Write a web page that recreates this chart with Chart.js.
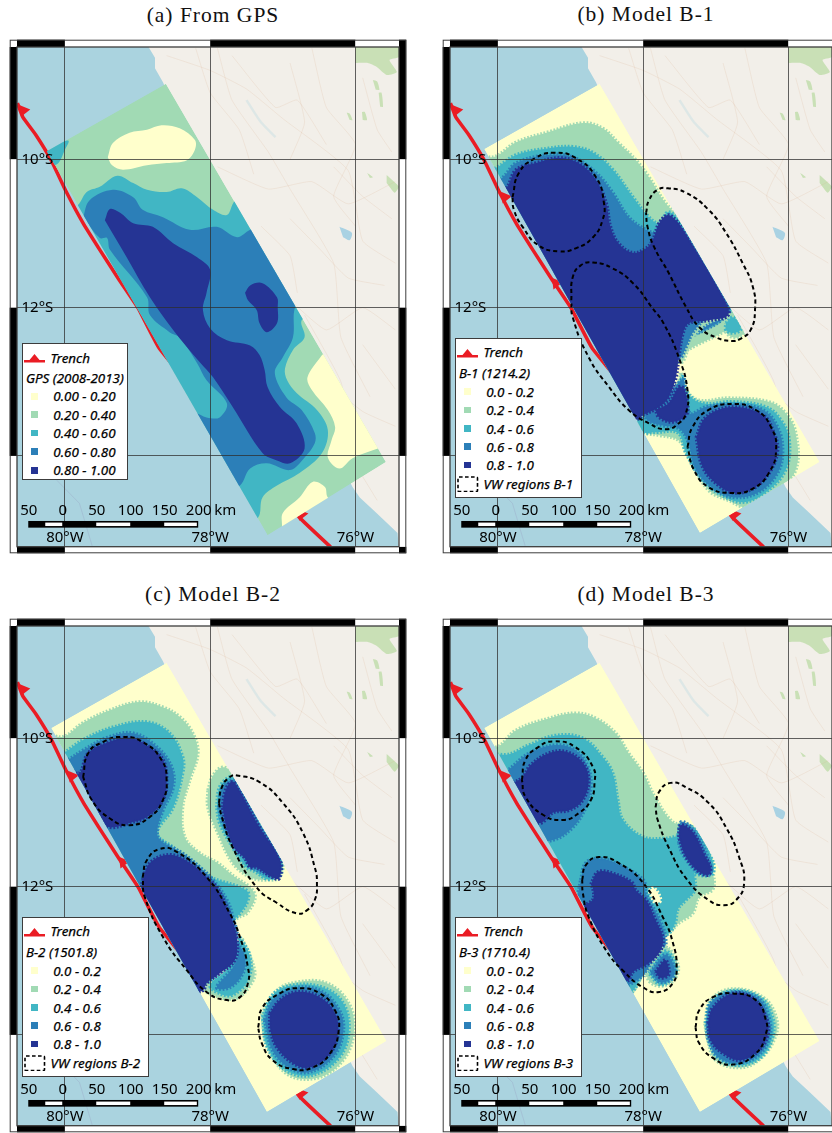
<!DOCTYPE html>
<html><head><meta charset="utf-8">
<script src="https://cdn.jsdelivr.net/npm/chart.js@4"></script>
<style>
html,body{margin:0;padding:0;background:#fff}
#page{position:relative;width:832px;height:1133px;overflow:hidden;background:#fff}
canvas{position:absolute}
.t{position:absolute;font-family:"Liberation Serif",serif;font-size:21.5px;transform:translateX(-50%);white-space:nowrap;line-height:22px;color:#111;letter-spacing:1px}
.lg{position:absolute;background:#fff;border:1.4px solid #3c3c3c;box-sizing:border-box;font-family:"Noto Sans",sans-serif;font-style:italic;font-size:13.4px;color:#000;-webkit-text-stroke:.25px #000}
.lg div,.lg svg{position:absolute;white-space:nowrap}
.lg div{line-height:16px}
</style></head><body><div id="page"></div>
<script>
// palette
const levelColors=['#ffffcc','#a1dab4','#41b6c4','#2c7fb8','#253494'];
const xTicks=[-80,-78,-76], yTicks=[-10,-12,-14];
const lonRange=[-80.66,-75.40], latRange=[-15.224,-8.484];
const scaleKm=[-50,0,50,100,150,200];
const panelTitles=['(a) From GPS','(b) Model B-1','(c) Model B-2','(d) Model B-3'];
const gpsLabels=['0.00 - 0.20','0.20 - 0.40','0.40 - 0.60','0.60 - 0.80','0.80 - 1.00'];
const modelLabels=['0.0 - 0.2','0.2 - 0.4','0.4 - 0.6','0.6 - 0.8','0.8 - 1.0'];
const legendNames=['GPS (2008-2013)','B-1 (1214.2)','B-2 (1501.8)','B-3 (1710.4)'];
// base map (lon,lat pairs)
const land=[-78.90,-8.40,-78.76,-8.63,-78.76,-8.77,-78.65,-8.96,-77.32,-11.90,-76.04,-14.42,-75.94,-14.56,-75.71,-14.77,-75.42,-15.04,-75.39,-15.4,-75.3,-15.4,-75.3,-8.4];
const forest=[[-76.0,-8.48,-75.40,-8.48,-75.40,-8.62,-75.53,-8.66,-75.43,-8.82,-75.57,-8.86,-75.71,-8.75,-75.83,-8.70,-76.0,-8.70],
[-75.76,-8.93,-75.70,-8.95,-75.67,-9.06,-75.72,-9.06],[-75.68,-9.1,-75.64,-9.1,-75.62,-9.29,-75.66,-9.29],[-76.12,-9.37,-76.08,-9.38,-76.04,-9.47,-76.08,-9.47],[-75.91,-9.36,-75.87,-9.36,-75.84,-9.47,-75.9,-9.47],[-75.84,-10.18,-75.76,-10.24,-75.8,-10.25],[-75.57,-10.21,-75.40,-10.37,-75.46,-10.45,-75.57,-10.32]];
const lake=[-76.22,-10.91,-76.05,-10.99,-76.08,-11.09,-76.17,-11.05];
const roads=[[-78.6,-8.6,-78.0,-8.8,-77.5,-9.05,-77.0,-9.45,-76.1,-10.15,-75.9,-11.1,-75.45,-11.4],
[-77.9,-8.5,-77.7,-9.2,-77.2,-9.9,-76.9,-10.4,-76.3,-11.4,-76.2,-12.4,-75.8,-13.2],
[-76.6,-8.5,-76.4,-9.3,-76.0,-9.8,-76.3,-10.5,-76.0,-10.9],
[-77.9,-10.1,-77.2,-10.4,-76.6,-10.3,-76.1,-10.6,-75.45,-10.3],
[-76.9,-11.9,-76.4,-12.3,-75.9,-12.0,-75.45,-12.3],
[-76.4,-13.0,-75.9,-13.4,-75.45,-13.6],[-75.95,-14.2,-75.7,-14.6],
[-77.7,-8.6,-77.1,-9.3,-76.8,-9.2,-76.4,-9.8],[-76.9,-10.8,-76.5,-11.2,-76.1,-11.6,-75.6,-11.7],[-76.7,-12.1,-76.2,-13.0,-76.0,-14.0],
[-78.2,-8.5,-78.0,-9.1,-77.6,-9.6,-77.4,-10.2],[-76.9,-8.7,-76.7,-9.5,-76.9,-10.0],[-75.9,-8.9,-75.7,-9.6,-75.5,-9.9],[-77.3,-10.9,-76.9,-11.3,-76.8,-11.8],[-76.3,-10.1,-75.9,-10.5,-75.5,-10.8],[-75.9,-12.5,-75.6,-12.9,-75.45,-13.1]];
const water=[-77.5,-9.2,-77.3,-9.5,-77.1,-9.7];
const seaLine=[-80.11,-14.33,-79.8,-14.64,-79.62,-15.23];
const trench=[-80.654,-9.24,-80.58,-9.43,-80.40,-9.67,-80.19,-10.01,-79.98,-10.44,-79.75,-10.86,-79.52,-11.22,-79.25,-11.63,-78.99,-12.01,-78.70,-12.55,-76.77,-14.83,-76.34,-15.23];
const teethAll=[-80.57,-9.34,-79.90,-10.51,-79.20,-11.67,-76.74,-14.79];
const teethGps=[-80.57,-9.34,-76.74,-14.79];
// fault plane outlines
const planeGps=[-78.61,-8.98,-75.58,-14.08,-77.21,-15.07,-80.25,-9.89];
const planeModel=[-78.60,-8.98,-75.57,-14.08,-77.22,-15.04,-80.19,-9.86];
// (a) GPS
const aYellowTop=[-79.41,-9.97,-79.34,-9.78,-79.11,-9.64,-78.87,-9.60,-78.67,-9.54,-78.42,-9.58,-78.21,-9.74,-78.21,-9.87,-78.32,-10.01,-78.60,-10.05,-78.87,-10.08,-79.20,-10.14,-79.35,-10.08];
const aYellowRight=[-76.46,-12.64,-76.66,-12.94,-76.60,-13.11,-76.38,-13.38,-76.28,-13.61,-76.33,-13.79,-76.38,-14.02,-76.22,-14.17,-76.04,-14.03,-75.69,-13.90,-75.39,-13.79,-76.15,-12.44];
const aYellowBottom=[-77.01,-14.96,-77.00,-14.77,-76.77,-14.56,-76.59,-14.35,-76.42,-14.42,-76.38,-14.56,-76.15,-14.73,-76.90,-15.20];
const aTealCorner=[-80.29,-9.90,-80.07,-9.77,-79.95,-9.75,-80.00,-9.87,-80.10,-10.06,-80.21,-10.06];
const aTeal=[-80.07,-10.89,-79.80,-10.59,-79.70,-10.44,-79.52,-10.37,-79.28,-10.22,-79.06,-10.32,-78.87,-10.41,-78.60,-10.44,-78.39,-10.39,-78.18,-10.51,-77.96,-10.68,-77.77,-10.75,-77.66,-10.56,-77.45,-10.48,-76.49,-12.03,-76.74,-12.17,-76.70,-12.40,-76.86,-12.57,-76.97,-12.82,-76.94,-12.98,-76.81,-13.15,-76.53,-13.38,-76.38,-13.65,-76.46,-13.96,-76.77,-14.23,-77.08,-14.40,-77.28,-14.56,-77.34,-14.83,-77.59,-14.93];
const aBlue=[-79.75,-10.78,-79.66,-10.55,-79.34,-10.41,-79.06,-10.51,-78.93,-10.68,-78.65,-10.78,-78.28,-10.95,-77.91,-10.91,-77.63,-11.05,-77.45,-10.95,-77.25,-10.89,-76.63,-11.76,-76.83,-11.99,-76.86,-12.40,-77.00,-12.67,-77.11,-12.88,-76.95,-13.21,-76.74,-13.38,-76.56,-13.69,-76.56,-13.83,-76.70,-14.02,-76.90,-14.19,-77.22,-14.10,-77.45,-14.17,-77.59,-14.40,-77.80,-14.46,-78.35,-13.45,-78.21,-13.42,-78.05,-13.48,-77.87,-13.48,-77.77,-13.29,-78.05,-12.98,-78.18,-12.75,-78.42,-12.40,-78.56,-12.33,-78.83,-12.10,-78.87,-11.86,-79.38,-11.22,-79.42,-11.06,-79.52,-11.06];
const aNavy=[-79.45,-10.82,-79.38,-10.67,-79.24,-10.72,-79.06,-10.86,-78.79,-10.91,-78.51,-11.13,-78.18,-11.32,-78.00,-11.49,-78.05,-11.80,-78.10,-12.03,-78.00,-12.28,-77.77,-12.44,-77.45,-12.51,-77.32,-12.64,-77.25,-12.84,-77.21,-13.07,-77.04,-13.34,-76.81,-13.56,-76.70,-13.90,-76.90,-14.10,-77.08,-14.06,-77.28,-13.96,-77.69,-13.34,-77.96,-12.94,-78.14,-12.74,-78.51,-12.30,-78.83,-11.86,-79.15,-11.32];
const aNavySmall=[-77.52,-11.80,-77.45,-11.70,-77.28,-11.67,-77.08,-11.86,-77.07,-11.99,-77.08,-12.21,-77.22,-12.33,-77.32,-12.21,-77.36,-12.03,-77.48,-11.90];
// (b) Model B-1
const bGreenUp=[-80.34,-9.87,-80.07,-9.97,-79.75,-9.77,-79.30,-9.63,-78.83,-9.51,-78.56,-9.58,-78.34,-9.78,-78.10,-10.01,-77.92,-10.24,-77.69,-10.59,-77.39,-10.89,-76.63,-12.03,-77.59,-12.71,-78.24,-13.45,-78.83,-12.71];
const bTealUp=[-80.21,-10.21,-80.00,-10.10,-79.75,-9.94,-79.30,-9.85,-78.97,-9.83,-78.69,-9.91,-78.42,-10.14,-78.14,-10.51,-77.92,-10.78,-77.78,-10.86,-77.65,-10.71,-77.45,-10.90,-76.85,-11.90,-76.79,-12.06,-77.59,-12.57,-78.24,-13.45,-78.83,-12.71];
const bBlueUp=[-80.14,-10.35,-79.93,-10.24,-79.75,-10.05,-79.30,-9.94,-78.97,-9.97,-78.65,-10.18,-78.42,-10.45,-78.20,-10.78,-77.96,-10.95,-77.83,-10.98,-77.73,-10.82,-77.55,-10.85,-76.88,-11.90,-76.82,-12.09,-77.59,-12.57,-78.24,-13.45,-78.83,-12.71];
const bNavyUp=[-80.07,-10.41,-79.89,-10.39,-79.75,-10.14,-79.48,-10.05,-79.16,-9.98,-78.89,-10.05,-78.65,-10.28,-78.51,-10.59,-78.45,-10.91,-78.34,-11.13,-78.14,-11.26,-77.96,-11.20,-77.87,-11.09,-77.78,-10.86,-77.66,-10.75,-77.55,-10.82,-77.45,-10.95,-76.90,-11.86,-76.83,-12.10,-77.10,-12.17,-77.37,-12.21,-77.45,-12.34,-77.51,-12.67,-77.55,-12.94,-77.65,-13.21,-77.78,-13.34,-78.00,-13.45,-78.07,-13.50,-78.28,-13.54];
const bGreenMid=[-76.79,-12.11,-77.03,-12.17,-77.23,-12.30,-77.37,-12.53,-77.48,-12.74,-77.66,-12.57,-77.32,-12.03];
const bBlueMid=[-77.15,-12.14,-77.32,-12.34,-77.41,-12.53,-77.50,-12.68,-77.65,-12.51,-77.39,-12.06];
const bGreenSpot=[-76.93,-12.24,-76.79,-12.07,-76.63,-12.17,-76.61,-12.34,-76.77,-12.40];
const bTealSpot=[-76.86,-12.21,-76.77,-12.13,-76.68,-12.21,-76.66,-12.30,-76.77,-12.34,-76.86,-12.30];
const bGreenLow=[-77.48,-12.88,-77.41,-13.11,-77.23,-13.25,-76.82,-13.22,-76.27,-13.27,-76.04,-13.42,-75.90,-13.69,-75.90,-14.19,-76.17,-14.46,-76.55,-14.69,-76.82,-14.60,-77.10,-14.46,-77.37,-14.02,-77.51,-13.79,-77.78,-13.72,-78.00,-13.68,-78.07,-13.56,-77.92,-13.41,-77.59,-13.21,-77.51,-12.98];
const bTealLow=[-77.45,-12.91,-77.39,-13.15,-77.18,-13.29,-76.77,-13.27,-76.31,-13.34,-76.10,-13.52,-75.99,-13.79,-76.04,-14.19,-76.31,-14.49,-76.59,-14.62,-76.86,-14.56,-77.18,-14.33,-77.41,-13.96,-77.52,-13.69,-77.83,-13.68,-78.00,-13.68,-78.10,-13.56,-77.87,-13.38,-77.58,-13.15];
const bBlueLow=[-77.44,-12.95,-77.36,-13.42,-77.14,-13.34,-76.77,-13.30,-76.35,-13.38,-76.15,-13.61,-76.08,-13.92,-76.15,-14.23,-76.41,-14.49,-76.73,-14.56,-77.00,-14.46,-77.27,-14.19,-77.39,-13.79,-77.51,-13.63,-77.73,-13.59,-77.94,-13.52,-77.96,-13.42,-77.78,-13.34,-77.52,-13.02];
const bNavyBridge=[-77.83,-13.38,-77.65,-13.29,-77.51,-13.07,-77.44,-13.09,-77.39,-13.29,-77.41,-13.45,-77.59,-13.54,-77.78,-13.48];
const bNavyRound=[-77.27,-13.75,-77.14,-13.48,-76.77,-13.34,-76.35,-13.45,-76.20,-13.69,-76.15,-13.92,-76.24,-14.19,-76.45,-14.42,-76.73,-14.50,-76.96,-14.40,-77.18,-14.15];
const bVw=[[-79.80,-10.51,-79.71,-10.18,-79.48,-9.98,-79.23,-9.91,-78.93,-9.98,-78.65,-10.24,-78.54,-10.59,-78.56,-10.82,-78.69,-11.05,-78.93,-11.20,-79.16,-11.24,-79.44,-11.16,-79.66,-10.91,-79.78,-10.68],
[-77.96,-10.72,-77.92,-10.55,-77.80,-10.41,-77.66,-10.39,-77.41,-10.45,-77.10,-10.68,-76.86,-10.99,-76.63,-11.40,-76.49,-11.72,-76.46,-12.03,-76.52,-12.30,-76.66,-12.42,-76.77,-12.45,-77.00,-12.40,-77.23,-12.26,-77.41,-11.99,-77.65,-11.53,-77.85,-11.18,-77.94,-10.91],
[-78.99,-11.90,-78.97,-11.59,-78.86,-11.43,-78.69,-11.39,-78.42,-11.47,-78.14,-11.67,-77.87,-12.01,-77.72,-12.21,-77.51,-12.67,-77.39,-13.11,-77.41,-13.42,-77.51,-13.56,-77.69,-13.64,-77.92,-13.56,-78.20,-13.38,-78.47,-13.07,-78.75,-12.67,-78.97,-12.13],
[-77.39,-13.88,-77.32,-13.61,-77.10,-13.38,-76.77,-13.30,-76.45,-13.38,-76.24,-13.61,-76.17,-13.92,-76.27,-14.23,-76.49,-14.44,-76.77,-14.50,-77.10,-14.42,-77.30,-14.19]];
// (c) Model B-2
const cGreenMain=[-80.34,-9.87,-80.04,-9.98,-79.75,-9.79,-79.38,-9.62,-78.97,-9.51,-78.65,-9.58,-78.42,-9.71,-78.24,-9.93,-78.17,-10.20,-78.28,-10.56,-78.38,-10.93,-78.35,-11.33,-78.14,-11.55,-77.90,-11.68,-77.70,-11.84,-77.39,-12.09,-77.48,-12.34,-77.62,-12.42,-77.80,-12.57,-78.24,-13.45,-78.83,-12.98];
const cGreenNe=[-78.03,-10.70,-77.96,-10.50,-77.83,-10.39,-77.69,-10.47,-77.22,-11.14,-77.01,-11.62,-77.04,-11.87,-77.22,-11.91,-77.45,-11.87,-77.69,-11.68,-77.91,-11.24,-78.03,-10.93];
const cTealMain=[-80.28,-10.28,-80.03,-10.20,-79.75,-10.02,-79.34,-9.85,-78.87,-9.78,-78.56,-9.93,-78.38,-10.25,-78.38,-10.47,-78.51,-10.93,-78.73,-11.28,-78.51,-11.47,-78.14,-11.74,-78.00,-11.87,-77.50,-12.05,-77.48,-12.18,-77.59,-12.36,-77.80,-12.57,-78.24,-13.45,-78.83,-12.98];
const cBlueMain=[-80.21,-10.41,-79.96,-10.29,-79.75,-10.16,-79.42,-9.99,-79.06,-9.93,-78.73,-10.12,-78.53,-10.39,-78.51,-10.66,-78.65,-10.97,-78.73,-11.24,-78.69,-11.37,-78.38,-11.55,-78.14,-11.74,-77.96,-11.91,-77.77,-12.18,-77.69,-12.41,-77.65,-12.71,-78.24,-13.45,-78.83,-12.98];
const cNavyUp=[-79.93,-10.41,-79.80,-10.47,-79.68,-10.20,-79.42,-10.06,-79.11,-9.99,-78.83,-10.12,-78.65,-10.29,-78.60,-10.56,-78.65,-10.83,-78.87,-11.06,-79.11,-11.14,-79.34,-11.20,-79.45,-11.16];
const cNavyMid=[-78.93,-11.91,-78.83,-11.68,-78.56,-11.57,-78.28,-11.68,-78.05,-11.87,-77.91,-12.01,-77.77,-12.28,-77.70,-12.45,-77.63,-12.72,-77.66,-12.99,-77.87,-13.17,-78.05,-13.30,-78.10,-13.40,-78.28,-13.41,-78.90,-12.44,-78.97,-12.24];
const cGreenEast=[-77.56,-12.70,-77.39,-13.13,-77.43,-13.30,-77.63,-13.50,-77.87,-13.49,-78.10,-13.36,-77.80,-13.18,-77.66,-12.91];
const cTealEast=[-77.59,-12.68,-77.45,-12.95,-77.48,-13.26,-77.69,-13.46,-77.87,-13.44,-78.00,-13.33,-77.76,-13.11,-77.65,-12.87];
const cBlueEast=[-77.62,-12.76,-77.52,-12.95,-77.55,-13.17,-77.73,-13.36,-77.91,-13.36,-77.70,-13.11,-77.62,-12.95];
const cTealNe=[-77.91,-10.93,-77.87,-10.66,-77.73,-10.52,-77.63,-10.56,-77.28,-11.20,-77.01,-11.62,-77.04,-11.74,-77.18,-11.90,-77.41,-11.78,-77.50,-11.74,-77.69,-11.47,-77.87,-11.14];
const cBlueNe=[-77.88,-10.93,-77.83,-10.66,-77.70,-10.56,-77.63,-10.60,-77.29,-11.20,-77.03,-11.64,-77.07,-11.87,-77.41,-11.75,-77.48,-11.68,-77.66,-11.41,-77.83,-11.14];
const cNavyNe=[-77.83,-10.93,-77.80,-10.74,-77.73,-10.60,-77.66,-10.60,-77.32,-11.20,-77.04,-11.64,-77.05,-11.89,-77.15,-11.87,-77.36,-11.74,-77.45,-11.74,-77.52,-11.62,-77.66,-11.49,-77.77,-11.22];
const cGreenRound=[-77.29,-13.71,-77.08,-13.40,-76.81,-13.29,-76.40,-13.30,-76.10,-13.56,-76.02,-13.94,-76.17,-14.34,-76.53,-14.58,-76.95,-14.52,-77.22,-14.11];
const cTealRound=[-77.28,-13.76,-77.14,-13.46,-76.86,-13.33,-76.45,-13.36,-76.17,-13.57,-76.09,-13.94,-76.22,-14.30,-76.59,-14.54,-76.95,-14.48,-77.21,-14.17];
const cBlueRound=[-77.25,-13.80,-77.14,-13.53,-76.86,-13.37,-76.49,-13.40,-76.22,-13.67,-76.17,-13.98,-76.31,-14.30,-76.63,-14.50,-76.90,-14.45,-77.14,-14.21];
const cNavyRound=[-77.18,-13.71,-77.04,-13.53,-76.81,-13.42,-76.49,-13.49,-76.28,-13.71,-76.24,-13.98,-76.35,-14.25,-76.63,-14.44,-76.86,-14.38,-77.08,-14.17,-77.17,-13.94];
const cVw=[[-79.75,-10.52,-79.68,-10.20,-79.48,-10.05,-79.22,-9.98,-78.93,-10.05,-78.67,-10.29,-78.60,-10.56,-78.65,-10.83,-78.83,-11.06,-79.11,-11.17,-79.38,-11.08,-79.63,-10.83],
[-77.88,-10.87,-77.84,-10.66,-77.73,-10.52,-77.63,-10.50,-77.32,-10.59,-77.00,-10.87,-76.72,-11.28,-76.56,-11.74,-76.53,-11.95,-76.56,-12.18,-76.67,-12.32,-76.81,-12.36,-77.08,-12.22,-77.36,-12.01,-77.69,-11.47,-77.84,-11.06],
[-78.93,-11.87,-78.87,-11.64,-78.69,-11.49,-78.46,-11.53,-78.05,-11.87,-77.73,-12.36,-77.59,-12.68,-77.48,-13.09,-77.48,-13.30,-77.59,-13.49,-77.77,-13.53,-78.05,-13.42,-78.32,-13.13,-78.65,-12.68,-78.90,-12.14],
[-77.34,-13.90,-77.28,-13.63,-77.04,-13.44,-76.81,-13.37,-76.49,-13.44,-76.28,-13.67,-76.23,-13.94,-76.35,-14.25,-76.59,-14.44,-76.86,-14.46,-77.14,-14.34,-77.29,-14.11]];
// (d) Model B-3
const dGreenMain=[-80.34,-10.01,-80.03,-10.12,-79.75,-9.89,-79.30,-9.73,-78.93,-9.66,-78.65,-9.73,-78.38,-9.93,-78.20,-10.20,-78.00,-10.47,-77.84,-10.79,-77.59,-11.13,-77.39,-11.16,-77.18,-11.32,-77.07,-11.59,-77.04,-11.79,-77.04,-12.03,-77.23,-12.14,-77.32,-12.36,-77.51,-12.49,-77.65,-12.63,-77.80,-12.71,-78.24,-13.45,-78.97,-12.44];
const dTealMain=[-80.28,-10.14,-79.89,-10.22,-79.57,-10.09,-79.20,-9.96,-78.83,-10.00,-78.56,-10.25,-78.42,-10.47,-78.35,-10.83,-78.28,-11.10,-78.00,-11.33,-77.69,-11.35,-77.45,-11.33,-77.34,-11.56,-77.29,-11.90,-77.29,-12.05,-77.41,-12.18,-77.52,-12.30,-77.56,-12.49,-77.65,-12.63,-77.80,-12.68,-78.24,-13.45,-78.97,-12.44];
const dYellowGap=[-77.92,-12.05,-77.85,-12.02,-77.76,-12.18,-77.83,-12.22];
const dBlueUp=[-80.07,-10.48,-79.90,-10.45,-79.57,-10.20,-79.20,-10.09,-78.93,-10.16,-78.76,-10.39,-78.72,-10.66,-78.79,-10.93,-78.97,-11.20,-79.24,-11.37,-79.52,-11.33];
const dNavyUp=[-79.93,-10.62,-79.80,-10.60,-79.66,-10.52,-79.55,-10.36,-79.30,-10.20,-79.06,-10.18,-78.83,-10.33,-78.75,-10.56,-78.83,-10.83,-79.02,-10.97,-79.24,-11.00,-79.41,-11.14,-79.55,-11.08];
const dBlueMid=[-78.86,-11.91,-78.79,-11.68,-78.61,-11.62,-78.38,-11.68,-78.00,-11.91,-77.96,-12.10,-77.76,-12.47,-77.69,-12.71,-77.73,-12.91,-78.07,-13.25,-78.35,-13.32,-78.97,-12.30,-78.90,-12.10];
const dNavyMid=[-78.72,-11.97,-78.62,-11.80,-78.42,-11.82,-78.16,-11.94,-78.10,-12.05,-77.96,-12.18,-77.83,-12.45,-77.73,-12.68,-77.76,-12.86,-77.92,-13.03,-78.14,-13.15,-78.20,-13.26,-78.31,-13.29,-78.83,-12.30,-78.69,-12.17,-78.69,-12.03];
const dGreenEast=[-77.96,-13.19,-77.70,-12.82,-77.52,-13.06,-77.58,-13.26,-77.76,-13.34,-77.90,-13.29];
const dTealEast=[-77.92,-13.17,-77.70,-12.87,-77.55,-13.06,-77.59,-13.23,-77.76,-13.32];
const dBlueEast=[-77.90,-13.15,-77.70,-12.92,-77.58,-13.06,-77.59,-13.22,-77.76,-13.29];
const dNavyEast=[-77.83,-13.15,-77.70,-12.99,-77.65,-13.09,-77.65,-13.19,-77.76,-13.23];
const dTealNe=[-77.48,-11.16,-77.29,-11.22,-77.07,-11.57,-77.04,-11.82,-77.23,-11.84,-77.45,-11.70,-77.54,-11.43];
const dBlueNe=[-77.51,-11.41,-77.48,-11.13,-77.30,-11.24,-77.11,-11.60,-77.07,-11.82,-77.23,-11.82,-77.45,-11.57];
const dNavyNe=[-77.51,-11.33,-77.48,-11.17,-77.32,-11.26,-77.14,-11.60,-77.07,-11.74,-77.10,-11.84,-77.23,-11.80,-77.41,-11.60];
const dGreenRound=[-77.15,-13.84,-77.07,-13.53,-76.77,-13.38,-76.34,-13.50,-76.16,-13.80,-76.20,-14.07,-76.41,-14.34,-76.68,-14.44,-77.00,-14.34,-77.11,-14.07];
const dTealRound=[-77.14,-13.84,-77.07,-13.56,-76.77,-13.40,-76.38,-13.50,-76.22,-13.76,-76.22,-14.03,-76.38,-14.30,-76.68,-14.41,-76.97,-14.31,-77.10,-14.07];
const dBlueRound=[-77.12,-13.84,-77.07,-13.57,-76.77,-13.42,-76.42,-13.50,-76.27,-13.76,-76.26,-14.03,-76.41,-14.27,-76.68,-14.38,-76.96,-14.30,-77.10,-14.07];
const dNavyRound=[-77.11,-13.84,-77.04,-13.63,-76.77,-13.44,-76.49,-13.50,-76.31,-13.76,-76.28,-13.98,-76.41,-14.21,-76.66,-14.34,-76.90,-14.25,-77.07,-14.07];
const dVw=[[-79.67,-10.56,-79.62,-10.29,-79.45,-10.12,-79.23,-10.04,-78.93,-10.12,-78.69,-10.39,-78.67,-10.60,-78.72,-10.83,-78.89,-11.01,-79.11,-11.10,-79.38,-11.03,-79.62,-10.79],
[-77.83,-10.93,-77.78,-10.72,-77.62,-10.60,-77.41,-10.66,-77.10,-10.87,-76.86,-11.20,-76.68,-11.60,-76.61,-11.95,-76.72,-12.18,-76.89,-12.25,-77.10,-12.18,-77.40,-11.90,-77.65,-11.47,-77.80,-11.10],
[-78.84,-11.91,-78.79,-11.71,-78.61,-11.60,-78.34,-11.68,-78.00,-11.95,-77.73,-12.41,-77.59,-12.76,-77.54,-13.09,-77.59,-13.30,-77.78,-13.42,-78.00,-13.36,-78.28,-13.13,-78.51,-12.86,-78.75,-12.41,-78.83,-12.09],
[-77.28,-13.90,-77.23,-13.67,-77.04,-13.49,-76.77,-13.44,-76.45,-13.53,-76.31,-13.80,-76.31,-13.98,-76.45,-14.25,-76.77,-14.40,-77.04,-14.31,-77.23,-14.11]];

// level index per layer, painted in this order
const panelLayers=[
 [[aYellowTop,0],[aYellowRight,0],[aYellowBottom,0],[aTealCorner,2],[aTeal,2],[aBlue,3],[aNavy,4],[aNavySmall,4]],
 [[bGreenUp,1],[bTealUp,2],[bBlueUp,3],[bGreenMid,1],[bBlueMid,3],[bGreenSpot,1],[bTealSpot,2],[bGreenLow,1],[bTealLow,2],[bBlueLow,3],[bNavyUp,4],[bNavyBridge,4],[bNavyRound,4]],
 [[cGreenMain,1],[cGreenNe,1],[cTealMain,2],[cTealNe,2],[cBlueMain,3],[cBlueNe,3],[cGreenEast,1],[cTealEast,2],[cBlueEast,3],[cNavyUp,4],[cNavyMid,4],[cNavyNe,4],[cGreenRound,1],[cTealRound,2],[cBlueRound,3],[cNavyRound,4]],
 [[dGreenMain,1],[dTealMain,2],[dYellowGap,0],[dTealNe,2],[dBlueNe,3],[dBlueUp,3],[dBlueMid,3],[dGreenEast,1],[dTealEast,2],[dBlueEast,3],[dNavyUp,4],[dNavyMid,4],[dNavyEast,4],[dNavyNe,4],[dGreenRound,1],[dTealRound,2],[dBlueRound,3],[dNavyRound,4]]
];
const panelPlanes=[[planeGps,1],[planeModel,0],[planeModel,0],[planeModel,0]];
const panelVw=[[],bVw,cVw,dVw];
const panelTeeth=[teethGps,teethAll,teethAll,teethAll];

const pts=f=>{const o=[];for(let i=0;i<f.length;i+=2)o.push({x:f[i],y:f[i+1]});return o;};
const closed=f=>f.concat([f[0],f[1]]);
const oc='#aad3df', mapFont='"Noto Sans",sans-serif';
const lonPerKm=0.00936, lon0=-80.037;

function path(ctx,chart,flat){const X=chart.scales.x,Y=chart.scales.y;ctx.beginPath();
 pts(flat).forEach((p,i)=>{const a=X.getPixelForValue(p.x),b=Y.getPixelForValue(p.y);i?ctx.lineTo(a,b):ctx.moveTo(a,b);});ctx.closePath();}

const mapPlugin={id:'mapPlugin',
 beforeDatasetsDraw(chart){const c=chart.ctx,a=chart.chartArea;c.fillStyle=oc;c.fillRect(a.left,a.top,a.width,a.height);},
 afterDatasetDraw(chart,args){const d=chart.data.datasets[args.index],c=chart.ctx;
   if(d.openPlane){c.save();path(c,chart,d.openPlane);c.clip();}
   if(d.closePlane){c.restore();}},
 afterDraw(chart){const c=chart.ctx,a=chart.chartArea,X=chart.scales.x,Y=chart.scales.y;
  // scale bar
  const kx=k=>X.getPixelForValue(lon0+k*lonPerKm);
  const yb0=Y.getPixelForValue(-14.877),yb1=Y.getPixelForValue(-14.967);
  c.fillStyle='#000';c.fillRect(kx(scaleKm[0]),yb0,kx(scaleKm[5])-kx(scaleKm[0]),yb1-yb0);
  c.fillStyle='#fff';[[-25,0],[50,100],[150,198]].forEach(s=>c.fillRect(kx(s[0]),yb0+1.6,kx(s[1])-kx(s[0]),yb1-yb0-3.2));
  c.fillStyle='#000';c.font='15px '+mapFont;c.textAlign='center';c.textBaseline='middle';
  const yl=Y.getPixelForValue(-14.74);
  scaleKm.forEach(k=>c.fillText(String(Math.abs(k)),kx(k)+.5,yl));
  c.fillText('km',kx(200)+27,yl);
  // graticule labels, inside the map
  const xLab=Y.getPixelForValue(-15.10);
  xTicks.forEach(v=>c.fillText((-v)+'°W',X.getPixelForValue(v),xLab));
  c.textAlign='left';
  yTicks.forEach(v=>c.fillText((-v)+'°S',a.left+4.5,Y.getPixelForValue(v)+.5));
  // fancy frame
  const b=7.3, xs=xTicks.map(v=>X.getPixelForValue(v)), ys=yTicks.map(v=>Y.getPixelForValue(v));
  const hs=[a.left,...xs,a.right], vs=[a.top,...ys,a.bottom];
  const L=a.left-b,R=a.right+b,T=a.top-b,B=a.bottom+6.6;
  [[T,a.top],[a.bottom,B]].forEach(r=>{
    for(let i=0;i<4;i++){c.fillStyle=i%2?'#fff':'#000';c.fillRect(hs[i],r[0],hs[i+1]-hs[i],r[1]-r[0]);}
    c.fillStyle='#fff';c.fillRect(L,r[0],b,r[1]-r[0]);c.fillStyle='#000';c.fillRect(a.right,r[0],b,r[1]-r[0]);});
  [[L,a.left],[a.right,R]].forEach(r=>{
    for(let i=0;i<4;i++){c.fillStyle=i%2?'#fff':'#000';c.fillRect(r[0],vs[i],r[1]-r[0],vs[i+1]-vs[i]);}});
  c.strokeStyle='#3c3c3c';c.lineWidth=1;
  c.strokeRect(L+.5,T+.5,R-L-1,B-T-1);
  c.lineWidth=1.3;c.strokeRect(a.left,a.top,a.width,a.height);
 }};

function buildDatasets(i){
 const ds=[];
 const fill=(f,col,t)=>ds.push({data:pts(f),showLine:true,fill:'shape',backgroundColor:col,borderColor:'transparent',borderWidth:0,pointRadius:0,tension:t});
 const comb=(f,col,t)=>ds.push({data:pts(f),showLine:true,fill:'shape',backgroundColor:col,borderColor:col,borderWidth:3.6,borderDash:[1.7,1.7],pointRadius:0,tension:t});
 const line=(f,col,w,t,dash)=>ds.push({data:pts(f),showLine:true,fill:false,borderColor:col,borderWidth:w,pointRadius:0,tension:t,borderDash:dash||[]});
 fill(land,'#f2efe9',0);
 forest.forEach(f=>fill(f,'#c9e0b6',.2));
 fill(lake,'#a9d2e3',.3);
 roads.forEach(r=>line(r,'rgba(214,170,140,.26)',.7,.15));
 line(water,'rgba(170,211,223,.28)',2.4,.2);
 line(seaLine,'rgba(150,150,190,.35)',.8,0);
 line(trench,'#ea1c24',3.5,.1);
 ds.push({data:pts(panelTeeth[i]),showLine:false,pointStyle:'triangle',pointRadius:6.8,pointRotation:-38,pointBackgroundColor:'#ea1c24',pointBorderWidth:0,pointBorderColor:'#ea1c24'});
 const plane=panelPlanes[i];
 ds[ds.length-1].openPlane=plane[0];
 fill(plane[0],levelColors[plane[1]],0);
 panelLayers[i].forEach(l=>{ if(i===0) fill(closed(l[0]),levelColors[l[1]],.35); else comb(closed(l[0]),levelColors[l[1]],.38); });
 ds[ds.length-1].closePlane=true;
 panelVw[i].forEach(e=>line(closed(e),'#000',2,.5,[4.2,3]));
 ds.forEach((d,k)=>d.order=ds.length-k);
 return ds;
}
const page=document.getElementById('page');
const offsets=[[0,0],[433,0],[0,579],[433,579]];
const titleY=[4,3,583,583];
const titleX=[213,646,213,646];

function addText(parent,cls,text,x,y,extra){const d=document.createElement('div');d.className=cls;d.textContent=text;d.style.left=x+'px';d.style.top=y+'px';if(extra)Object.assign(d.style,extra);parent.appendChild(d);return d;}
function svg(parent,x,y,w,h,inner){const n=document.createElementNS('http://www.w3.org/2000/svg','svg');n.setAttribute('width',w);n.setAttribute('height',h);n.style.left=x+'px';n.style.top=y+'px';n.innerHTML=inner;parent.appendChild(n);}

function addLegend(i,ox,oy){
 const gps=i===0, top=gps?342.7:337.7, bottom=gps?480.3:498.3, left=21.7, right=gps?128:149;
 const box=document.createElement('div');box.className='lg';
 Object.assign(box.style,{left:(ox+left)+'px',top:(oy+top)+'px',width:(right-left)+'px',height:(bottom-top)+'px'});
 page.appendChild(box);
 const rowY=gps?[396.7,415,433.3,452,470.7]:[392,410.5,429,447,465.5];
 const trY=gps?358:352.7, tiY=gps?378.7:373.3;
 const lx=v=>v-left-1.4, ly=v=>v-top-1.4-8;
 svg(box,lx(23.5),ly(trY)-.5,23,15,'<path d="M1 11 H6.5 L11.5 5 L16.5 11 H22 V13.6 H1 Z" fill="#ea1c24"/>');
 addText(box,'','Trench',lx(51),ly(trY));
 addText(box,'',legendNames[i],lx(26.3),ly(tiY));
 (gps?gpsLabels:modelLabels).forEach((t,k)=>{
   const s=document.createElement('div');Object.assign(s.style,{left:lx(31.3)+'px',top:(ly(rowY[k])+4.7)+'px',width:'6.7px',height:'6.7px',background:levelColors[k]});box.appendChild(s);
   addText(box,'',t,lx(53.7),ly(rowY[k]));});
 if(!gps){svg(box,lx(24.5),ly(484)+.5,22,16,'<rect x="1" y="1" width="19.5" height="14.5" rx="1" fill="none" stroke="#000" stroke-width="1.6" stroke-dasharray="3.6 2.4"/>');
   addText(box,'','VW regions B-'+i,lx(51),ly(484));}
}

panelTitles.forEach((t,i)=>{
 const [ox,oy]=offsets[i];
 addText(page,'t',t,titleX[i],titleY[i]);
 const cv=document.createElement('canvas');cv.width=440;cv.height=566;
 cv.style.cssText=`left:${ox}px;top:${oy}px;width:440px;height:566px`;page.appendChild(cv);
 new Chart(cv,{type:'scatter',plugins:[mapPlugin],data:{datasets:buildDatasets(i)},options:{
  responsive:false,animation:false,devicePixelRatio:1,
  layout:{padding:{left:17,right:41,top:47,bottom:19.3}},
  plugins:{legend:{display:false},tooltip:{enabled:false},title:{display:false}},
  scales:{
   x:{type:'linear',min:lonRange[0],max:lonRange[1],afterFit:s=>{s.height=0;},afterBuildTicks:s=>{s.ticks=xTicks.map(v=>({value:v}));},
      border:{display:false},grid:{z:2,color:'rgba(45,45,45,.75)',lineWidth:1,drawTicks:false},ticks:{display:false}},
   y:{type:'linear',min:latRange[0],max:latRange[1],afterFit:s=>{s.width=0;},afterBuildTicks:s=>{s.ticks=yTicks.map(v=>({value:v}));},
      border:{display:false},grid:{z:2,color:'rgba(45,45,45,.75)',lineWidth:1,drawTicks:false},ticks:{display:false}}
  }}});
 addLegend(i,ox,oy);
});
</script></body></html>
